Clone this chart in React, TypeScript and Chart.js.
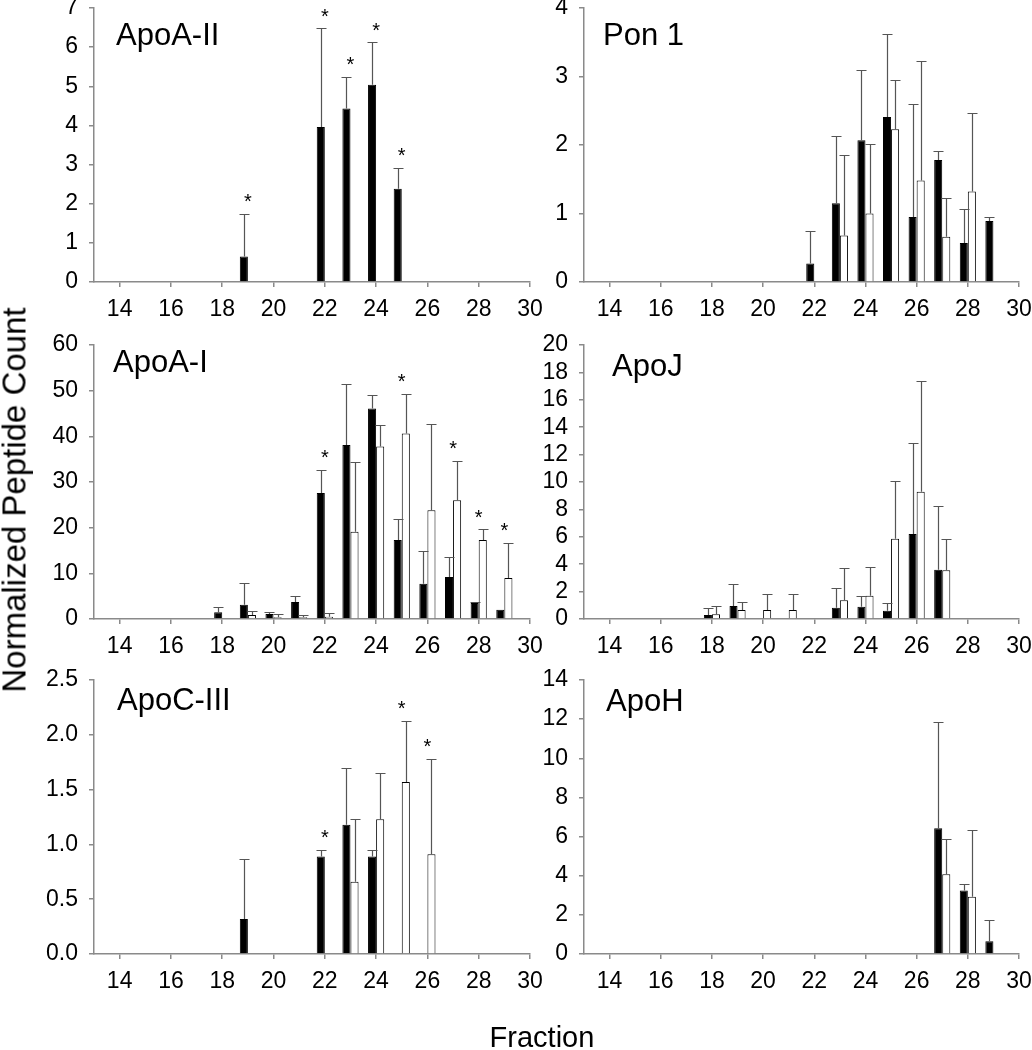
import React, { useEffect, useRef } from 'react';
import { Chart, registerables } from 'chart.js';

Chart.register(...registerables);

const FONT = '"Liberation Sans", Arial, Helvetica, sans-serif';

// ---- categories / ticks ----
const FRACTIONS = [18, 19, 20, 21, 22, 23, 24, 25, 26, 27, 28, 29];
const X_TICKS = [14, 16, 18, 20, 22, 24, 26, 28, 30];

// ---- ApoA-II ----
const apoA2Black = [null, 0.65, null, null, 3.96, 4.43, 5.04, 2.38, null, null, null, null];
const apoA2BlackSd = [null, 1.09, null, null, 2.52, 0.81, 1.08, 0.54, null, null, null, null];
const apoA2White = [null, null, null, null, null, null, null, null, null, null, null, null];
const apoA2WhiteSd = [null, null, null, null, null, null, null, null, null, null, null, null];
const apoA2Stars = [19, 22, 23, 24, 25];
const apoA2YTicks = [0, 1, 2, 3, 4, 5, 6, 7];

// ---- Pon 1 ----
const pon1Black = [null, null, null, null, 0.27, 1.15, 2.07, 2.41, 0.95, 1.78, 0.57, 0.89];
const pon1BlackSd = [null, null, null, null, 0.48, 0.98, 1.03, 1.21, 1.65, 0.13, 0.5, 0.06];
const pon1White = [null, null, null, null, null, 0.68, 1.0, 2.23, 1.48, 0.66, 1.32, null];
const pon1WhiteSd = [null, null, null, null, null, 1.18, 1.01, 0.72, 1.75, 0.57, 1.14, null];
const pon1Stars: number[] = [];
const pon1YTicks = [0, 1, 2, 3, 4];

// ---- ApoA-I ----
const apoA1Black = [1.5, 3.1, 1.1, 3.7, 27.6, 38.1, 46.1, 17.3, 7.7, 9.2, 3.5, 2.0];
const apoA1BlackSd = [1.1, 4.7, 0.5, 1.3, 5.1, 13.4, 3.0, 4.6, 7.1, 4.3, 0.3, null];
const apoA1White = [null, 0.9, 0.4, 0.4, 0.5, 19.1, 37.8, 40.6, 23.8, 26.0, 17.3, 9.0];
const apoA1WhiteSd = [null, 0.9, 0.6, 0.5, 0.9, 15.2, 4.7, 8.7, 18.9, 8.7, 2.4, 7.7];
const apoA1Stars = [22, 25, 27, 28, 29];
const apoA1YTicks = [0, 10, 20, 30, 40, 50, 60];

// ---- ApoJ ----
const apoJBlack = [0.29, 0.95, null, null, null, 0.83, 0.9, 0.61, 6.2, 3.6, null, null];
const apoJBlackSd = [0.49, 1.6, null, null, null, 1.41, 0.8, 0.53, 6.68, 4.64, null, null];
const apoJWhite = [0.34, 0.66, 0.66, 0.66, null, 1.36, 1.7, 5.86, 9.28, 3.55, null, null];
const apoJWhiteSd = [0.61, 0.6, 1.19, 1.19, null, 2.36, 2.11, 4.22, 8.09, 2.31, null, null];
const apoJStars: number[] = [];
const apoJYTicks = [0, 2, 4, 6, 8, 10, 12, 14, 16, 18, 20];

// ---- ApoC-III ----
const apoC3Black = [null, 0.32, null, null, 0.89, 1.18, 0.89, null, null, null, null, null];
const apoC3BlackSd = [null, 0.55, null, null, 0.06, 0.52, 0.06, null, null, null, null, null];
const apoC3White = [null, null, null, null, null, 0.66, 1.23, 1.57, 0.91, null, null, null];
const apoC3WhiteSd = [null, null, null, null, null, 0.57, 0.42, 0.56, 0.87, null, null, null];
const apoC3Stars = [22, 25, 26];
const apoC3YTicks = [0, 0.5, 1.0, 1.5, 2.0, 2.5];

// ---- ApoH ----
const apoHBlack = [null, null, null, null, null, null, null, null, null, 6.42, 3.24, 0.65];
const apoHBlackSd = [null, null, null, null, null, null, null, null, null, 5.45, 0.32, 1.09];
const apoHWhite = [null, null, null, null, null, null, null, null, null, 4.07, 2.93, null];
const apoHWhiteSd = [null, null, null, null, null, null, null, null, null, 1.81, 3.42, null];
const apoHStars: number[] = [];
const apoHYTicks = [0, 2, 4, 6, 8, 10, 12, 14];

// ---- layout (page pixels of each plot area) ----
const PAD_L = 100;
const PAD_T = 30;
const PAD_R = 30;
const PAD_B = 70;
const AXIS_COLOR = '#8a8a8a';
const ERR_COLOR = '#555555';

type Panel = {
  title: string;
  black: (number | null)[];
  blackSd: (number | null)[];
  white: (number | null)[];
  whiteSd: (number | null)[];
  stars: number[];
  yTicks: number[];
  decimals: number;
  area: { l: number; t: number; r: number; b: number };
  titleDx: number;
  titleDy: number;
};

const PANELS: Panel[] = [
  { title: 'ApoA-II', black: apoA2Black, blackSd: apoA2BlackSd, white: apoA2White, whiteSd: apoA2WhiteSd, stars: apoA2Stars, yTicks: apoA2YTicks, decimals: 0, area: { l: 94, t: 8, r: 530, b: 282 }, titleDx: 22, titleDy: 37 },
  { title: 'Pon 1', black: pon1Black, blackSd: pon1BlackSd, white: pon1White, whiteSd: pon1WhiteSd, stars: pon1Stars, yTicks: pon1YTicks, decimals: 0, area: { l: 584, t: 8, r: 1019, b: 282 }, titleDx: 19, titleDy: 37 },
  { title: 'ApoA-I', black: apoA1Black, blackSd: apoA1BlackSd, white: apoA1White, whiteSd: apoA1WhiteSd, stars: apoA1Stars, yTicks: apoA1YTicks, decimals: 0, area: { l: 94, t: 345, r: 530, b: 619 }, titleDx: 19, titleDy: 27 },
  { title: 'ApoJ', black: apoJBlack, blackSd: apoJBlackSd, white: apoJWhite, whiteSd: apoJWhiteSd, stars: apoJStars, yTicks: apoJYTicks, decimals: 0, area: { l: 584, t: 345, r: 1019, b: 619 }, titleDx: 28, titleDy: 31 },
  { title: 'ApoC-III', black: apoC3Black, blackSd: apoC3BlackSd, white: apoC3White, whiteSd: apoC3WhiteSd, stars: apoC3Stars, yTicks: apoC3YTicks, decimals: 1, area: { l: 94, t: 680, r: 530, b: 954 }, titleDx: 23, titleDy: 30 },
  { title: 'ApoH', black: apoHBlack, blackSd: apoHBlackSd, white: apoHWhite, whiteSd: apoHWhiteSd, stars: apoHStars, yTicks: apoHYTicks, decimals: 0, area: { l: 584, t: 680, r: 1019, b: 954 }, titleDx: 22, titleDy: 31 },
];

function PanelChart({ p }: { p: Panel }) {
  const ref = useRef<HTMLCanvasElement | null>(null);
  const W = p.area.r - p.area.l + PAD_L + PAD_R;
  const H = p.area.b - p.area.t + PAD_T + PAD_B;

  useEffect(() => {
    if (!ref.current) return;
    const decor = {
      id: 'decor',
      afterDatasetsDraw(chart: any) {
        const ctx = chart.ctx as CanvasRenderingContext2D;
        const xs = chart.scales.x;
        const ys = chart.scales.y;
        const tops: Record<number, number> = {};
        ctx.save();
        ctx.strokeStyle = ERR_COLOR;
        ctx.lineWidth = 1.2;
        const groups: [(number | null)[], (number | null)[]][] = [
          [p.black, p.blackSd],
          [p.white, p.whiteSd],
        ];
        groups.forEach(([vals, sds], di) => {
          const meta = chart.getDatasetMeta(di);
          vals.forEach((v, i) => {
            if (v == null) return;
            const bar = meta.data[i];
            const f = FRACTIONS[i];
            const sd = sds[i];
            const top = ys.getPixelForValue(v + (sd ?? 0));
            tops[f] = Math.min(tops[f] ?? Infinity, top);
            if (sd == null || sd <= 0) return;
            const x = Math.round(bar.x) + 0.5;
            const yt = Math.round(top) + 0.5;
            ctx.beginPath();
            ctx.moveTo(x, bar.y);
            ctx.lineTo(x, yt);
            ctx.moveTo(x - 5, yt);
            ctx.lineTo(x + 5, yt);
            ctx.stroke();
          });
        });
        ctx.fillStyle = '#000';
        ctx.font = `20px ${FONT}`;
        ctx.textAlign = 'center';
        ctx.textBaseline = 'alphabetic';
        p.stars.forEach((f) => {
          const x = xs.getPixelForValue(f);
          const y = tops[f];
          if (y == null) return;
          ctx.fillText('*', x, y - 5.5);
        });
        ctx.font = `31px ${FONT}`;
        ctx.textAlign = 'left';
        ctx.fillText(p.title, chart.chartArea.left + p.titleDx, chart.chartArea.top + p.titleDy);
        ctx.restore();
      },
    };

    const chart = new Chart(ref.current, {
      type: 'bar',
      data: {
        labels: FRACTIONS,
        datasets: [
          {
            data: p.black as any,
            backgroundColor: '#000000',
            borderColor: '#000000',
            borderWidth: 1,
            categoryPercentage: 0.63,
            barPercentage: 1.0,
          },
          {
            data: p.white as any,
            backgroundColor: '#ffffff',
            borderColor: '#000000',
            borderWidth: 1,
            categoryPercentage: 0.63,
            barPercentage: 1.0,
          },
        ],
      },
      options: {
        animation: false,
        responsive: false,
        devicePixelRatio: 1,
        layout: { padding: { left: 0, top: PAD_T, right: PAD_R, bottom: 0 } },
        plugins: { legend: { display: false }, tooltip: { enabled: false } },
        scales: {
          x: {
            type: 'linear',
            min: 13,
            max: 30,
            offset: false,
            afterBuildTicks: (scale: any) => {
              scale.ticks = X_TICKS.map((v) => ({ value: v }));
            },
            afterFit: (scale: any) => {
              scale.height = PAD_B;
            },
            grid: {
              display: true,
              drawOnChartArea: false,
              drawTicks: true,
              tickLength: 5,
              color: AXIS_COLOR,
              lineWidth: 1.5,
              offset: false,
            },
            border: { display: true, color: AXIS_COLOR, width: 1.5 },
            ticks: {
              color: '#000',
              font: { family: FONT, size: 23 },
              padding: 9,
              maxRotation: 0,
              autoSkip: false,
              callback: (v: any) => String(v),
            },
          },
          y: {
            type: 'linear',
            min: 0,
            max: p.yTicks[p.yTicks.length - 1],
            afterBuildTicks: (scale: any) => {
              scale.ticks = p.yTicks.map((v) => ({ value: v }));
            },
            afterFit: (scale: any) => {
              scale.width = PAD_L;
            },
            grid: {
              display: true,
              drawOnChartArea: false,
              drawTicks: true,
              tickLength: 5,
              color: AXIS_COLOR,
              lineWidth: 1.5,
            },
            border: { display: true, color: AXIS_COLOR, width: 1.5 },
            ticks: {
              color: '#000',
              font: { family: FONT, size: 23 },
              padding: 11,
              autoSkip: false,
              callback: (v: any) => Number(v).toFixed(p.decimals),
            },
          },
        },
      } as any,
      plugins: [decor],
    });
    return () => chart.destroy();
  }, []);

  return (
    <canvas
      ref={ref}
      width={W}
      height={H}
      style={{
        position: 'absolute',
        left: p.area.l - PAD_L,
        top: p.area.t - PAD_T,
        width: W,
        height: H,
      }}
    />
  );
}

export default function App() {
  return (
    <div
      style={{
        position: 'absolute',
        left: 0,
        top: 0,
        width: 1032,
        height: 1050,
        overflow: 'hidden',
        background: '#ffffff',
        fontFamily: FONT,
      }}
    >
      {PANELS.map((p) => (
        <PanelChart key={p.title} p={p} />
      ))}
      <div
        style={{
          position: 'absolute',
          left: 14,
          top: 500,
          transform: 'translate(-50%, -50%) rotate(-90deg)',
          fontSize: 33,
          lineHeight: '33px',
          whiteSpace: 'nowrap',
          color: '#000',
        }}
      >
        Normalized Peptide Count
      </div>
      <div
        style={{
          position: 'absolute',
          left: 542,
          top: 1023,
          transform: 'translateX(-50%)',
          fontSize: 29,
          lineHeight: '29px',
          whiteSpace: 'nowrap',
          color: '#000',
        }}
      >
        Fraction
      </div>
    </div>
  );
}
